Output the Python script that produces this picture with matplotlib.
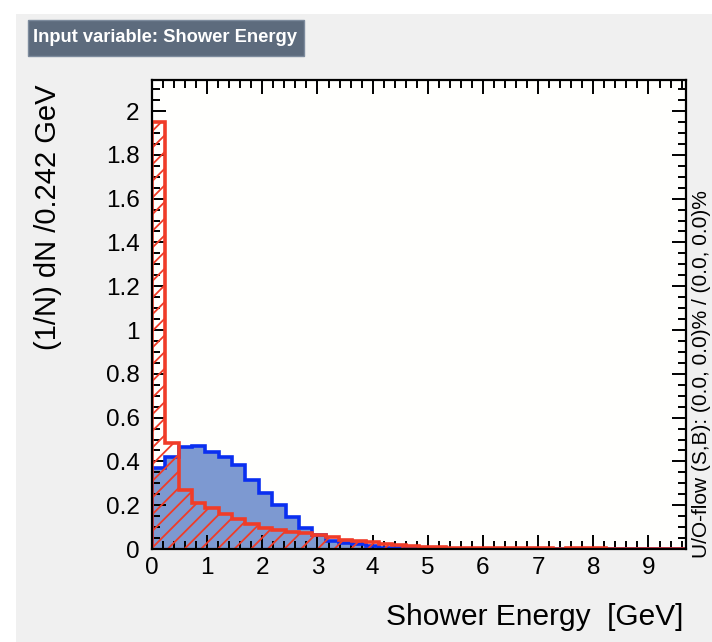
import numpy as np
import matplotlib
matplotlib.use("Agg")
import matplotlib.pyplot as plt
from matplotlib.patches import Rectangle
from matplotlib.ticker import MultipleLocator, FuncFormatter

plt.rcParams['font.family'] = ['Liberation Sans', 'DejaVu Sans']
plt.rcParams['hatch.linewidth'] = 1.3

# normalised shower energy distributions, 40 bins of 0.242 GeV
bin_width = 0.242
n_bins = 40
signal = [0.368, 0.419, 0.464, 0.470, 0.441, 0.421, 0.384, 0.315, 0.256, 0.200,
          0.146, 0.094, 0.064, 0.036, 0.026, 0.021, 0.012, 0.006, 0.004, 0.003,
          0.002, 0.002, 0.001, 0.001, 0.001, 0.001, 0.001, 0.0005, 0.0005, 0.0005,
          0.0005, 0.0005, 0.0005, 0.0003, 0.0003, 0.0003, 0.0003, 0.0003, 0.0002, 0.0002]
background = [1.950, 0.484, 0.268, 0.212, 0.186, 0.158, 0.135, 0.112, 0.094, 0.087,
              0.079, 0.071, 0.064, 0.054, 0.043, 0.037, 0.030, 0.023, 0.019, 0.015,
              0.010, 0.008, 0.006, 0.005, 0.005, 0.004, 0.004, 0.003, 0.003, 0.003,
              0.002, 0.003, 0.006, 0.003, 0.002, 0.002, 0.002, 0.002, 0.001, 0.001]
edges = np.arange(n_bins + 1) * bin_width

title = "Input variable: Shower Energy"
xlabel = "Shower Energy  [GeV]"
ylabel = "(1/N) dN /0.242 GeV"
flow_text = "U/O-flow (S,B): (0.0, 0.0)% / (0.0, 0.0)%"

sig_fill = "#7d99d1"
sig_line = "#0a2ff0"
bkg_line = "#f03c28"

W, H = 712, 642
fig = plt.figure(figsize=(W / 100, H / 100), dpi=100, facecolor="white")

# canvas background
fig.patches.append(Rectangle((16 / W, 0), 1, 1 - 14 / H, transform=fig.transFigure,
                             facecolor="#f0f0f0", edgecolor="none", zorder=-10))
# title box
fig.patches.append(Rectangle((28 / W, 1 - 56 / H), 276 / W, 36 / H, transform=fig.transFigure,
                             facecolor="#5d6b7d", edgecolor="#7d8b9d", lw=1, zorder=1))
fig.text(165 / W, 1 - 38 / H, title, color="white", fontsize=13.2, fontweight="bold",
         ha="center", va="center")

ax = fig.add_axes([152 / W, 1 - 549 / H, 534 / W, 469 / H])
ax.set_facecolor("#fffffd")

ax.stairs(signal, edges, fill=True, facecolor=sig_fill, edgecolor="none", zorder=1)
ax.stairs(signal, edges, color=sig_line, lw=2.6, zorder=2)
ax.stairs(background, edges, fill=True, facecolor="none", edgecolor=bkg_line,
          hatch="//", lw=0, zorder=3)
ax.stairs(background, edges, color=bkg_line, lw=2.6, zorder=4)

ax.set_xlim(0, n_bins * bin_width)
ax.set_ylim(0, 2.1416)

ax.xaxis.set_major_locator(MultipleLocator(1))
ax.xaxis.set_minor_locator(MultipleLocator(0.2))
ax.yaxis.set_major_locator(MultipleLocator(0.2))
ax.yaxis.set_minor_locator(MultipleLocator(0.05))
ax.yaxis.set_major_formatter(FuncFormatter(lambda v, p: f"{v:g}"))
ax.xaxis.set_major_formatter(FuncFormatter(lambda v, p: f"{v:g}"))

ax.tick_params(which="both", direction="in", top=True, right=True, width=1.4,
               colors="black", labelsize=17.5)
ax.tick_params(which="major", length=10)
ax.tick_params(which="minor", length=5.5)
ax.tick_params(axis="y", which="major", pad=9)
ax.tick_params(axis="x", which="major", pad=6)
for s in ax.spines.values():
    s.set_linewidth(1.6)
    s.set_zorder(6)

ax.set_xlabel(xlabel, fontsize=21.5, loc="right")
ax.xaxis.set_label_coords(0.996, -0.116)
ax.set_ylabel(ylabel, fontsize=21, loc="top")
ax.yaxis.set_label_coords(-0.168, 0.99)

fig.text(711 / W, 1 - 558 / H, flow_text, rotation=90, fontsize=15,
         ha="right", va="bottom", color="black")

fig.savefig("out.png", dpi=100)
